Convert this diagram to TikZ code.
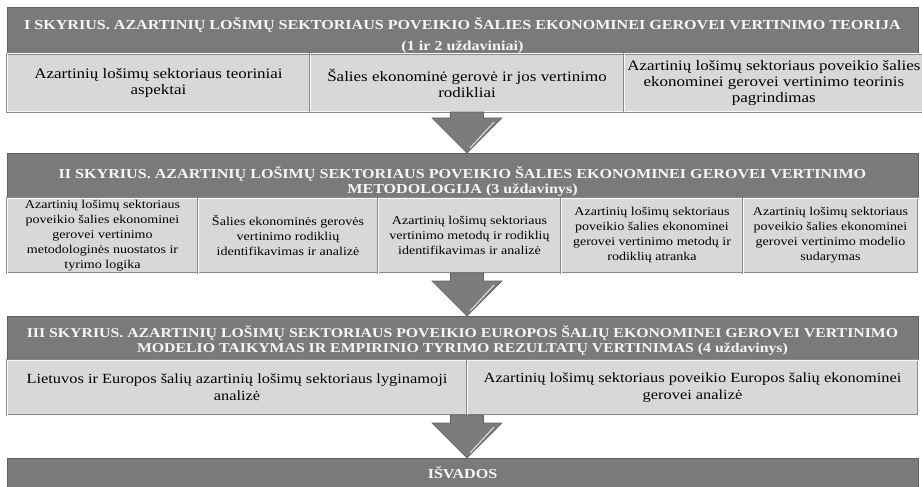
\documentclass[tikz,border=0pt]{standalone}
\usepackage{fontspec}
\setmainfont{Liberation Serif}[FakeStretch=1.17]
\usetikzlibrary{positioning, calc}
\definecolor{hdrfill}{RGB}{122,122,122}
\definecolor{hdrline}{RGB}{96,96,96}
\definecolor{subfill}{RGB}{216,216,216}
\definecolor{subline}{RGB}{138,138,138}
\definecolor{arrfill}{RGB}{124,124,124}
\NewDocumentCommand{\blockarrow}{mm}{%
  \filldraw[bigarrow] ($(ax |- #1)+(-16.5,0)$) -- ($(ax |- #1)+(16.5,0)$)
    -- ($(ax |- #2)+(16.5,-35)$) -- ($(ax |- #2)+(35,-35)$) -- (ax |- #2)
    -- ($(ax |- #2)+(-35,-35)$) -- ($(ax |- #2)+(-16.5,-35)$) -- cycle;
  \draw[shine] ($(ax |- #2)+(27,-31)$) -- ($(ax |- #2)+(3,-5)$);}

\begin{document}
\begin{tikzpicture}[x=1pt, y=-1pt,
    chapter/.style = {draw=hdrline, fill=hdrfill, text=white!94!gray, outer sep=0pt, inner ysep=0pt,
      minimum width=911pt, align=center, font=\bfseries\fontsize{13.75}{15}\selectfont},
    task/.style = {draw=subline, double=white!88!subfill, double distance=1pt, line width=0.6pt,
      fill=subfill, outer sep=0pt, align=center, font=\fontsize{14.5}{16}\selectfont},
    smalltask/.style = {task, inner ysep=1pt, font=\fontsize{12}{15}\selectfont},
    bigarrow/.style = {fill=arrfill, draw=hdrline, line width=0.6pt},
    shine/.style = {draw=white!75!gray, line width=1pt}]
    \useasboundingbox (0,0) rectangle (922,487);
    \coordinate (ax) at (467,0);

    % I skyrius
    \node[chapter, minimum height=47pt, font=\bfseries\fontsize{13.75}{16}\selectfont] (h1) at (462.5,30.5)
      {\rule{0pt}{22pt}I SKYRIUS. AZARTINIŲ LOŠIMŲ SEKTORIAUS POVEIKIO ŠALIES EKONOMINEI GEROVEI VERTINIMO TEORIJA\\[5pt](1 ir 2 uždaviniai)};
    \node[task, minimum width=303pt, minimum height=58pt] (b11) [below right=0pt and 0pt of h1.south west]
      {Azartinių lošimų sektoriaus teoriniai\\aspektai};
    \node[task, minimum width=314pt, minimum height=58pt] (b12) [right=0pt of b11]
      {Šalies ekonominė gerovė ir jos vertinimo\\rodikliai};
    \node[task, minimum width=294pt, minimum height=58pt] (b13) [right=0pt of b12]
      {Azartinių lošimų sektoriaus poveikio šalies\\ekonominei gerovei vertinimo teorinis\\pagrindimas};

    % II skyrius
    \node[chapter, minimum height=45pt] (h2) [below right=41pt and 0pt of b11.south west]
      {\rule{0pt}{24pt}II SKYRIUS. AZARTINIŲ LOŠIMŲ SEKTORIAUS POVEIKIO ŠALIES EKONOMINEI GEROVEI VERTINIMO\\METODOLOGIJA (3 uždavinys)};
    \node[smalltask, minimum width=191pt, minimum height=75pt] (b21) [below right=0pt and 0pt of h2.south west]
      {Azartinių lošimų sektoriaus\\poveikio šalies ekonominei\\gerovei vertinimo\\metodologinės nuostatos ir\\tyrimo logika};
    \node[smalltask, minimum width=180pt, minimum height=75pt] (b22) [right=0pt of b21]
      {Šalies ekonominės gerovės\\vertinimo rodiklių\\identifikavimas ir analizė};
    \node[smalltask, minimum width=183pt, minimum height=75pt] (b23) [right=0pt of b22]
      {Azartinių lošimų sektoriaus\\vertinimo metodų ir rodiklių\\identifikavimas ir analizė};
    \node[smalltask, minimum width=182pt, minimum height=75pt] (b24) [right=0pt of b23]
      {Azartinių lošimų sektoriaus\\poveikio šalies ekonominei\\gerovei vertinimo metodų ir\\rodiklių atranka};
    \node[smalltask, minimum width=175pt, minimum height=75pt] (b25) [right=0pt of b24]
      {Azartinių lošimų sektoriaus\\poveikio šalies ekonominei\\gerovei vertinimo modelio\\sudarymas};

    % III skyrius
    \node[chapter, minimum height=44pt, font=\bfseries\fontsize{13.5}{15}\selectfont] (h3) [below right=43pt and 0pt of b21.south west]
      {\rule{0pt}{17pt}III SKYRIUS. AZARTINIŲ LOŠIMŲ SEKTORIAUS POVEIKIO EUROPOS ŠALIŲ EKONOMINEI GEROVEI VERTINIMO\\MODELIO TAIKYMAS IR EMPIRINIO TYRIMO REZULTATŲ VERTINIMAS (4 uždavinys)};
    \node[task, minimum width=460pt, minimum height=55pt, font=\fontsize{14}{17}\selectfont] (b31) [below right=0pt and 0pt of h3.south west]
      {Lietuvos ir Europos šalių azartinių lošimų sektoriaus lyginamoji\\analizė};
    \node[task, minimum width=451pt, minimum height=55pt, font=\fontsize{14}{17}\selectfont] (b32) [right=0pt of b31]
      {Azartinių lošimų sektoriaus poveikio Europos šalių ekonominei\\gerovei analizė};

    % isvados
    \node[chapter, minimum height=29pt] (h4) [below right=43pt and 0pt of b31.south west] {IŠVADOS};

    \blockarrow{b12.south}{h2.north}
    \blockarrow{b23.south}{h3.north}
    \blockarrow{b31.south}{h4.north}
\end{tikzpicture}
\end{document}
